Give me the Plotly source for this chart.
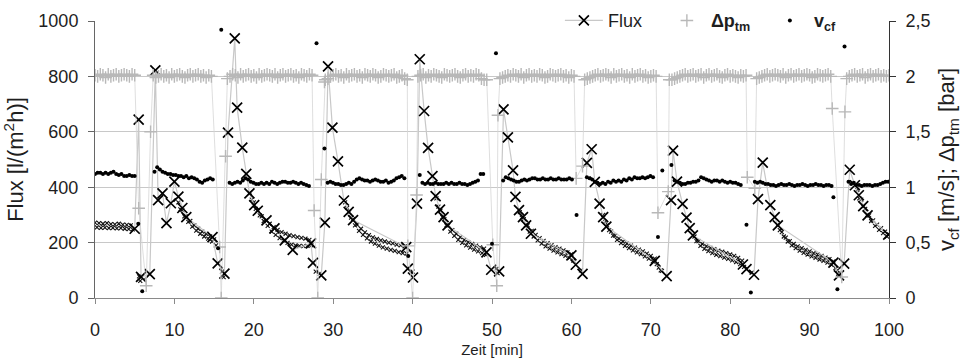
import plotly.graph_objects as go

# ---------------------------------------------------------------------------
# Flux [l/(m²h)] – single readings around every backflush cycle
# ---------------------------------------------------------------------------
FLUX_T = [5.0, 5.5, 5.8, 6.9, 7.6, 7.95, 8.5, 9.0, 9.55, 10.0, 10.5, 11.0, 11.5,
          14.8, 15.45, 16.3, 16.75, 17.6, 17.9, 18.55, 19.05, 19.45, 20.05, 20.5,
          21.6, 22.6, 23.9, 24.9, 27.2, 27.45, 28.5, 28.95, 29.35, 29.9, 30.6,
          31.35, 31.95, 32.5, 39.2, 39.4, 40.05, 40.55, 40.9, 41.45, 41.95, 42.5,
          42.9, 43.45, 43.9, 44.4, 49.3, 49.9, 50.9, 51.45, 52.0, 52.65, 52.95,
          53.4, 53.9, 54.3, 54.9, 60.0, 60.55, 61.4, 61.95, 62.55, 62.95, 63.55,
          64.0, 64.4, 70.5, 72.0, 72.55, 72.8, 73.3, 74.0, 74.5, 74.9, 75.3,
          81.6, 82.05, 83.0, 83.5, 84.1, 85.05, 85.6, 86.0, 93.0, 93.7, 94.35,
          95.05, 95.7, 96.2, 96.75, 97.3, 99.9]
FLUX_V = [250, 644, 76, 86, 822, 353, 378, 270, 342, 420, 366, 325, 292,
          220, 125, 88, 597, 937, 687, 543, 448, 378, 335, 315,
          280, 251, 208, 174, 197, 127, 82, 272, 836, 615, 493,
          352, 311, 281, 184, 106, 74, 341, 862, 675, 542, 440,
          368, 319, 292, 262, 165, 102, 96, 681, 580, 461, 365,
          317, 292, 262, 232, 154, 120, 87, 488, 537, 419, 341,
          292, 258, 134, 79, 353, 532, 420, 340, 290, 252, 226,
          121, 104, 84, 357, 489, 335, 292, 262, 128, 82, 124,
          463, 407, 371, 332, 298, 229]

# Flux, fast logging during the filtration phases (one value every 15 s)
FLUX_LOG_STEP = 0.25
FLUX_LOG_0 = (0.0, [272, 255, 270, 253, 268, 254, 270, 252, 267, 253, 266, 251,
                    268, 252, 265, 250, 264, 249, 262, 248])
FLUX_LOG_1 = (10.5, [345, 320, 318, 295, 295, 275, 278, 258, 262, 243, 250, 232,
                     240, 222, 232, 214, 222, 204, 212, 190])
FLUX_LOG_2 = (19.5, [380, 355, 345, 322, 318, 298, 295, 278, 280, 260, 268, 240,
                     256, 228, 246, 216, 238, 207, 232, 199, 227, 193, 223, 190,
                     220, 188, 217, 187, 214, 188, 210, 190])
FLUX_LOG_3 = (31.5, [345, 325, 310, 290, 285, 262, 265, 242, 250, 228, 237, 215,
                     227, 204, 219, 196, 213, 189, 208, 183, 204, 178, 200, 174,
                     197, 170, 193, 166, 190, 162, 186, 160])
FLUX_LOG_4 = (43.0, [360, 330, 315, 292, 285, 262, 262, 240, 245, 224, 232, 210,
                     220, 199, 210, 190, 202, 182, 195, 175, 189, 168, 183, 162,
                     178, 156])
FLUX_LOG_5 = (53.5, [310, 290, 285, 262, 262, 240, 242, 222, 228, 208, 216, 196,
                     206, 186, 198, 178, 191, 171, 184, 165, 178, 158, 172, 152,
                     165, 145, 158, 135])
FLUX_LOG_6 = (64.0, [300, 275, 262, 245, 240, 225, 225, 210, 214, 198, 204, 188,
                     196, 180, 189, 172, 182, 165, 175, 158, 168, 150, 160, 142,
                     152, 132, 142, 122, 110, 100])
FLUX_LOG_7 = (75.5, [222, 205, 205, 188, 195, 177, 187, 169, 181, 162, 176, 156,
                     171, 151, 167, 146, 162, 141, 157, 136, 152, 130, 145, 122,
                     135, 112])
FLUX_LOG_8 = (86.0, [265, 245, 238, 222, 218, 204, 205, 190, 195, 180, 186, 171,
                     180, 163, 174, 157, 168, 150, 162, 145, 157, 139, 152, 134,
                     146, 128, 140, 120, 132, 108, 100, 90])
FLUX_LOG_9 = (96.0, [390, 360, 355, 330, 322, 300, 298, 278, 280, 260, 265, 246,
                     252, 234, 240, 222, 230])
FLUX_LOG_LOW_T = [5.55, 5.7, 16.0, 16.2, 27.8, 28.3, 40.0, 50.55, 50.7, 61.2, 71.4, 82.7, 93.6]
FLUX_LOG_LOW_V = [78, 62, 95, 75, 95, 88, 95, 105, 90, 100, 98, 92, 88]

# ---------------------------------------------------------------------------
# Transmembrane pressure Δp_tm [bar], logged every 20 s
# ---------------------------------------------------------------------------
LOG_STEP_20S = 1 / 3
DP_SEG = [
    (0.0, [2.01, 2.00, 2.02, 2.01, 1.99, 2.02, 2.00, 2.01, 2.02, 2.00, 2.01, 2.02,
           2.01, 2.00, 2.02, 2.01]),
    (7.33, [2.01, 1.99, 2.00, 2.02, 2.00, 2.01, 1.99, 2.02, 2.00, 2.01, 2.02, 2.00,
            1.99, 2.01, 2.02, 2.00, 2.01, 2.02, 2.00, 2.01, 1.99, 2.01, 2.00]),
    (16.67, [1.98, 2.00, 2.02, 2.01, 1.99, 2.02, 2.00, 2.01, 2.02, 2.00, 2.01, 1.99,
             2.02, 2.00, 2.01, 2.02, 2.01, 2.00, 2.02, 1.99, 2.01, 2.02, 2.00, 2.01,
             2.02, 2.00, 2.01, 1.99, 2.02, 2.01, 2.00, 2.02, 2.01]),
    (29.0, [1.97, 1.98, 2.00, 2.01, 2.02, 2.00, 2.01, 1.99, 2.02, 2.00, 2.01, 2.02,
            2.00, 2.01, 1.99, 2.02, 2.01, 2.00, 2.02, 2.01, 1.99, 2.00, 2.02, 2.01,
            2.00, 2.01, 2.02, 1.99, 2.00, 2.01, 1.98, 1.97]),
    (40.67, [2.00, 2.01, 2.02, 1.99, 2.01, 2.00, 2.02, 2.01, 2.00, 1.99, 2.02, 2.01,
             2.00, 2.01, 2.02, 2.00, 1.99, 2.01, 2.02, 2.00, 2.01, 2.00, 2.02, 2.01,
             1.98, 1.97, 1.97]),
    (51.0, [1.98, 1.99, 2.00, 2.01, 2.00, 2.02, 2.01, 2.00, 2.02, 1.99, 2.01, 2.02,
            2.00, 2.01, 2.00, 2.02, 2.01, 1.99, 2.00, 2.02, 2.01, 2.00, 2.01, 2.02,
            2.00, 2.01, 1.99, 2.01, 2.00]),
    (61.67, [1.97, 1.98, 1.99, 2.00, 2.01, 2.02, 2.00, 2.01, 2.02, 2.01, 1.99, 2.02,
             2.00, 2.01, 2.02, 2.00, 2.01, 1.99, 2.02, 2.00, 2.01, 2.02, 2.00, 2.01,
             1.99, 2.00, 2.01, 2.00]),
    (72.33, [1.97, 1.97, 1.98, 1.99, 2.00, 2.01, 2.02, 2.00, 2.01, 2.02, 2.00, 2.01,
             2.02, 1.99, 2.01, 2.02, 2.00, 2.01, 2.02, 2.00, 1.99, 2.01, 2.02, 2.00,
             2.01, 2.00, 1.99, 2.01, 2.00, 2.01]),
    (83.33, [1.98, 1.99, 2.00, 2.01, 2.02, 2.00, 2.01, 2.02, 2.01, 2.00, 2.02, 1.99,
             2.01, 2.02, 2.00, 2.01, 2.02, 2.00, 2.01, 2.02, 2.01, 1.99, 2.00, 2.02,
             2.01, 2.00, 2.01, 2.02, 2.00]),
    (94.67, [1.98, 2.00, 2.01, 2.02, 2.00, 2.01, 2.02, 1.99, 2.01, 2.02, 2.00, 2.01,
             2.02, 2.00, 2.01, 2.00, 2.01]),
]
# Δp_tm readings during backflush / cleaning
DP_BF_T = [5.5, 6.45, 7.0, 15.7, 15.9, 16.45, 27.6, 28.05, 28.5, 28.9, 39.4, 40.0, 40.5,
           50.1, 50.6, 50.75, 60.6, 61.4, 70.9, 72.2, 82.15, 83.1, 92.85, 94.05, 94.45]
DP_BF_V = [0.81, 0.11, 1.50, 0.46, 0.00, 1.28, 0.79, 0.00, 1.07, 1.95, 0.47, 0.00, 0.93,
           0.48, 0.11, 1.65, 1.08, 1.19, 0.77, 0.96, 1.09, 0.99, 1.71, 0.19, 1.68]

# ---------------------------------------------------------------------------
# Cross-flow velocity v_cf [m/s], logged every 20 s
# ---------------------------------------------------------------------------
VCF_SEG = [
    (0.0, [1.12, 1.13, 1.13, 1.12, 1.13, 1.12, 1.13, 1.14, 1.12, 1.11, 1.12, 1.10,
           1.10, 1.11, 1.10, 1.10]),
    (7.5, [1.14, 1.18, 1.16, 1.14, 1.13, 1.12, 1.12, 1.11, 1.11, 1.10, 1.10, 1.09,
           1.10, 1.08, 1.09, 1.08, 1.07, 1.05, 1.04, 1.06, 1.07, 1.08, 1.07]),
    (16.95, [1.04, 1.03, 1.04, 1.05, 1.04, 1.06, 1.08, 1.07, 1.05, 1.04, 1.03, 1.03,
             1.04, 1.03, 1.04, 1.03, 1.05, 1.04, 1.03, 1.04, 1.05, 1.05, 1.04, 1.04,
             1.05, 1.04, 1.03, 1.04, 1.03, 1.02, 1.01]),
    (29.3, [1.04, 1.05, 1.04, 1.03, 1.03, 1.02, 1.02, 1.03, 1.04, 1.03, 1.05, 1.07,
            1.08, 1.07, 1.06, 1.06, 1.05, 1.06, 1.07, 1.06, 1.05, 1.05, 1.06, 1.04,
            1.05, 1.06, 1.08, 1.09, 1.10, 1.08]),
    (40.9, [1.11, 1.04, 1.03, 1.04, 1.03, 1.03, 1.04, 1.03, 1.03, 1.03, 1.04, 1.03,
            1.04, 1.03, 1.03, 1.04, 1.03, 1.03, 1.02, 1.03, 1.04, 1.05, 1.06, 1.12,
            1.12]),
    (51.4, [1.06, 1.09, 1.08, 1.07, 1.06, 1.05, 1.05, 1.06, 1.07, 1.06, 1.07, 1.08,
            1.08, 1.07, 1.07, 1.08, 1.07, 1.07, 1.08, 1.07, 1.07, 1.08, 1.07, 1.07,
            1.07, 1.08, 1.07]),
    (61.95, [1.09, 1.08, 1.07, 1.05, 1.04, 1.03, 1.04, 1.03, 1.05, 1.04, 1.06, 1.05,
             1.06, 1.05, 1.07, 1.06, 1.08, 1.07, 1.09, 1.08, 1.08, 1.09, 1.08, 1.09,
             1.10, 1.09]),
    (73.0, [1.06, 1.05, 1.04, 1.03, 1.03, 1.04, 1.04, 1.05, 1.05, 1.06, 1.09, 1.08,
            1.07, 1.06, 1.05, 1.06, 1.06, 1.05, 1.06, 1.05, 1.04, 1.05, 1.04, 1.04,
            1.03, 1.02]),
    (83.1, [1.05, 1.04, 1.05, 1.04, 1.03, 1.03, 1.02, 1.02, 1.01, 1.02, 1.03, 1.02,
            1.02, 1.03, 1.02, 1.01, 1.02, 1.02, 1.03, 1.02, 1.01, 1.02, 1.02, 1.03,
            1.02, 1.02, 1.01, 1.02, 1.02, 1.01]),
    (94.9, [1.05, 1.03, 1.04, 1.02, 1.02, 1.01, 1.02, 1.02, 1.02, 1.01, 1.02, 1.02,
            1.03, 1.04, 1.05, 1.05]),
]
VCF_BF_T = [5.45, 5.95, 15.5, 15.9, 27.9, 28.9, 39.45, 50.0, 50.5, 60.65, 70.9, 71.45,
            72.6, 82.05, 82.6, 93.0, 93.5, 94.4]
VCF_BF_V = [0.67, 0.06, 0.45, 2.42, 2.30, 1.35, 0.38, 0.49, 2.21, 0.75, 0.55, 1.15,
            1.20, 0.66, 0.05, 0.91, 0.08, 2.27]

X_TICKS = [0, 10, 20, 30, 40, 50, 60, 70, 80, 90, 100]
Y2_TICKS = [0, 0.5, 1, 1.5, 2, 2.5]
Y2_TICK_LABELS = ["0", "0,5", "1", "1,5", "2", "2,5"]


def unroll(segments, step):
    """Turn (start, values) logging blocks into flat time/value lists."""
    ts, vs = [], []
    for start, vals in segments:
        for i, v in enumerate(vals):
            ts.append(round(start + i * step, 3))
            vs.append(v)
    return ts, vs


def merged(t1, v1, t2, v2):
    pairs = sorted(zip(t1 + t2, v1 + v2))
    return [p[0] for p in pairs], [p[1] for p in pairs]


log_t, log_v = unroll([FLUX_LOG_0, FLUX_LOG_1, FLUX_LOG_2, FLUX_LOG_3, FLUX_LOG_4,
                       FLUX_LOG_5, FLUX_LOG_6, FLUX_LOG_7, FLUX_LOG_8, FLUX_LOG_9],
                      FLUX_LOG_STEP)
log_t += FLUX_LOG_LOW_T
log_v += FLUX_LOG_LOW_V

dp_t, dp_v = unroll(DP_SEG, LOG_STEP_20S)
dp_t, dp_v = merged(dp_t, dp_v, DP_BF_T, DP_BF_V)

vcf_t, vcf_v = unroll(VCF_SEG, LOG_STEP_20S)
vcf_t, vcf_v = merged(vcf_t, vcf_v, VCF_BF_T, VCF_BF_V)

FONT = "Liberation Sans, Arial, sans-serif"
TXT = "#1e1e1e"
GRID = "#c8c8c8"
LIGHT = "#c8c8c8"

fig = go.Figure()

# fast-logged flux (small marks, no legend entry)
fig.add_trace(go.Scatter(
    x=log_t, y=log_v, mode="markers", showlegend=False, hoverinfo="skip",
    marker=dict(symbol="x-thin", size=4, color="#111",
                line=dict(width=1.1, color="#111")),
))
# flux readings with connecting line
fig.add_trace(go.Scatter(
    x=FLUX_T, y=FLUX_V, mode="lines+markers", name="Flux", legendrank=1,
    line=dict(color=LIGHT, width=1.2),
    marker=dict(symbol="x-thin", size=10, color="#000",
                line=dict(width=1.7, color="#000")),
))
# Δp_tm: thin connecting line plus cross markers
fig.add_trace(go.Scatter(
    x=dp_t, y=dp_v, yaxis="y2", mode="lines", showlegend=False, hoverinfo="skip",
    line=dict(color="#d6d6d6", width=0.8),
))
fig.add_trace(go.Scatter(
    x=dp_t, y=dp_v, yaxis="y2", mode="markers", legendrank=2,
    name="<b>Δp<sub>tm</sub></b>",
    marker=dict(symbol="cross-thin", size=9, color="#b8b8b8",
                line=dict(width=1.4, color="#b8b8b8")),
))
# v_cf dots
fig.add_trace(go.Scatter(
    x=vcf_t, y=vcf_v, yaxis="y2", mode="markers", legendrank=3,
    name="<b>v<sub>cf</sub></b>",
    marker=dict(symbol="circle", size=4, color="#000"),
))

fig.update_layout(
    width=962, height=358,
    margin=dict(l=95, r=73, t=21, b=60, autoexpand=False),
    paper_bgcolor="white", plot_bgcolor="white",
    font=dict(family=FONT, size=18, color=TXT),
    showlegend=True,
    legend=dict(orientation="h", xref="container", yref="container",
                x=0.582, xanchor="left", y=0.942, yanchor="middle",
                bgcolor="white", borderwidth=0, font=dict(size=18, color=TXT),
                entrywidth=50, entrywidthmode="pixels", itemwidth=38,
                traceorder="normal"),
    xaxis=dict(range=[0, 100], tickvals=X_TICKS, showgrid=False, zeroline=False,
               automargin=False,
               showline=True, linecolor="#8a8a8a", linewidth=1,
               ticks="outside", ticklen=5, tickcolor="#8a8a8a",
               ticklabelstandoff=10,
               title=dict(text="Zeit [min]", font=dict(size=15), standoff=8)),
    yaxis=dict(range=[0, 1000], dtick=200, showgrid=True, gridcolor=GRID,
               automargin=False,
               gridwidth=1, zeroline=False, showline=True, linecolor="#666",
               ticks="outside", ticklen=6, tickcolor="#666", ticklabelstandoff=6,
               title=dict(text="Flux [l/(m<sup>2</sup>h)]", standoff=12)),
    yaxis2=dict(range=[0, 2.5], overlaying="y", side="right", tickvals=Y2_TICKS,
                automargin=False,
                ticktext=Y2_TICK_LABELS, showgrid=False, zeroline=False,
                showline=True, linecolor="#333", ticks="outside", ticklen=6,
                tickcolor="#333", ticklabelstandoff=6,
                title=dict(text="v<sub>cf</sub> [m/s]; Δp<sub>tm</sub> [bar]",
                           standoff=10)),
)

fig.write_html("out.html")
